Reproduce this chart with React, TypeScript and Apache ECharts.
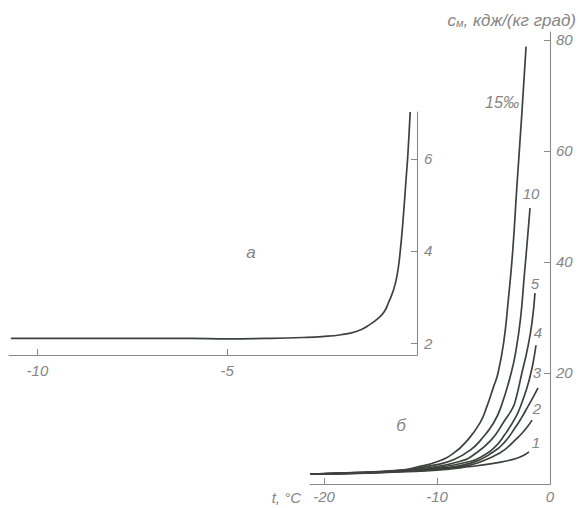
import React, { useEffect, useRef } from "react";
import * as echarts from "echarts";

// Chart "a": specific heat of fresh-water ice near 0 °C
const A_T = [-10.7, -9, -8, -7, -6, -5, -4, -3, -2.5, -2, -1.6, -1.3, -1.0, -0.85, -0.75, -0.62, -0.53, -0.46, -0.37, -0.28, -0.24, -0.18];
const A_C = [2.1, 2.1, 2.1, 2.1, 2.1, 2.09, 2.1, 2.12, 2.14, 2.18, 2.25, 2.37, 2.55, 2.7, 2.88, 3.15, 3.45, 3.85, 4.65, 5.65, 6.1, 7.02];

// Chart "б": sea ice of different salinity (‰)
const B_T15 = [-21.2, -17, -13.2, -11.7, -10, -8.5, -7.3, -6.2, -5.6, -5, -4.6, -4.1, -3.7, -3.3, -2.92, -2.5, -2.12];
const B_C15 = [1.8, 2.1, 2.5, 3.1, 4.0, 5.6, 7.9, 11.0, 13.9, 17.5, 20, 25.5, 33, 42, 54, 66.5, 78.8];
const B_T10 = [-21.2, -17, -13.2, -10, -8.5, -7, -6.1, -5, -4.34, -3.45, -3, -2.6, -2.3, -2.0, -1.77];
const B_C10 = [1.8, 2.05, 2.45, 3.5, 4.4, 6.2, 8.0, 11.0, 13.9, 19.9, 24.2, 30, 37, 44, 49.7];
const B_T5 = [-21.2, -17, -13.2, -10, -7.6, -7, -5.22, -4, -3.3, -3, -2.5, -2, -1.6, -1.33];
const B_C5 = [1.8, 2.0, 2.4, 3.15, 4.3, 4.9, 7.9, 11.5, 13.7, 15.5, 19.9, 24.3, 29, 34.4];
const B_T4 = [-21.2, -17, -13.2, -10, -7, -6, -5, -4, -3, -2.5, -2, -1.74, -1.5, -1.24];
const B_C4 = [1.8, 2.0, 2.35, 2.95, 4.1, 5.0, 6.4, 8.9, 12.2, 14.6, 17.6, 19.6, 21.8, 25.0];
const B_T3 = [-21.2, -17, -13.2, -10, -7, -5, -4, -3, -2.5, -2, -1.5, -1.06];
const B_C3 = [1.8, 1.95, 2.3, 2.8, 3.75, 5.8, 7.6, 10.4, 12.0, 13.8, 15.6, 17.3];
const B_T2 = [-21.2, -17, -13.2, -10, -7, -5, -4, -3, -2.5, -2, -1.59];
const B_C2 = [1.8, 1.95, 2.25, 2.65, 3.45, 5.0, 6.2, 8.1, 9.1, 10.3, 11.5];
const B_T1 = [-21.2, -17, -13.2, -10, -7, -5, -4, -3, -2.4, -1.86];
const B_C1 = [1.8, 1.9, 2.2, 2.5, 3.15, 3.7, 4.1, 4.6, 5.1, 5.8];

const A_XTICKS = [-10, -5];
const A_YTICKS = [2, 4, 6];
const B_XTICKS = [-20, -10, 0];
const B_YTICKS = [20, 40, 60, 80];

const SALINITY_LABELS = ["15‰", "10", "5", "4", "3", "2", "1"];

const zip = (xs: number[], ys: number[]) => xs.map((x, i) => [x, ys[i]]);

const FONT = "'Liberation Sans', 'DejaVu Sans', sans-serif";
const TXT = "#858585";
const AX = "#8a8a8a";
const LINE = "#3e423f";

function axisCommon(ticks: number[], margin: number, fontSize: number) {
  return {
    axisLine: { show: true, onZero: false, lineStyle: { color: AX, width: 1.1 } },
    axisTick: { show: true, inside: true, length: 6, customValues: ticks, lineStyle: { color: AX, width: 1 } },
    axisLabel: {
      show: true,
      customValues: ticks,
      margin,
      color: TXT,
      fontSize,
      fontStyle: "italic",
      fontFamily: FONT,
    },
    splitLine: { show: false },
  };
}

export default function App() {
  const ref = useRef<HTMLDivElement>(null);
  useEffect(() => {
    const chart = echarts.init(ref.current!, null, { renderer: "svg" });
    const lineSeries = (name: string, xi: number, data: number[][]) => ({
      name,
      type: "line",
      xAxisIndex: xi,
      yAxisIndex: xi,
      data,
      showSymbol: false,
      smooth: 0.5,
      lineStyle: { color: LINE, width: 1.7 },
      silent: true,
    });
    const bSets = [
      zip(B_T15, B_C15),
      zip(B_T10, B_C10),
      zip(B_T5, B_C5),
      zip(B_T4, B_C4),
      zip(B_T3, B_C3),
      zip(B_T2, B_C2),
      zip(B_T1, B_C1),
    ];
    const labelPos = [
      [502, 102],
      [531, 193],
      [535, 283],
      [538, 332],
      [537, 372],
      [537, 408],
      [536, 442],
    ];
    const textStyle = (text: string, x: number, y: number, size: number, align = "center") => ({
      type: "text",
      x,
      y,
      silent: true,
      style: {
        text,
        fill: TXT,
        fontSize: size,
        fontStyle: "italic",
        fontFamily: FONT,
        textAlign: align,
        textVerticalAlign: "middle",
      },
    });
    const option: any = {
      animation: false,
      backgroundColor: "#ffffff",
      grid: [
        { left: 9, top: 112, width: 408, height: 243 },
        { left: 310, top: 32, width: 240, height: 452 },
      ],
      xAxis: [
        { type: "value", gridIndex: 0, min: -10.75, max: 0, position: "bottom", ...axisCommon(A_XTICKS, 8, 15) },
        { type: "value", gridIndex: 1, min: -21.25, max: 0, position: "bottom", ...axisCommon(B_XTICKS, 5, 15) },
      ],
      yAxis: [
        { type: "value", gridIndex: 0, min: 1.74, max: 7.02, position: "right", ...axisCommon(A_YTICKS, 7, 15) },
        { type: "value", gridIndex: 1, min: 0, max: 81.44, position: "right", ...axisCommon(B_YTICKS, 6, 15) },
      ],
      series: [
        lineSeries("a", 0, zip(A_T, A_C)),
        ...bSets.map((d, i) => lineSeries(SALINITY_LABELS[i], 1, d)),
      ],
      graphic: [
        textStyle("a", 251, 252, 17),
        textStyle("б", 401, 425, 17),
        ...SALINITY_LABELS.map((s, i) => textStyle(s, labelPos[i][0], labelPos[i][1], i === 0 ? 16 : 15)),
        textStyle("t, °C", 301, 497, 15, "right"),
        {
          type: "text",
          x: 576,
          y: 20,
          silent: true,
          style: {
            text: "{c|c}{s|м}{t|, кдж/(кг град)}",
            textAlign: "right",
            textVerticalAlign: "middle",
            rich: {
              c: { fill: TXT, fontSize: 17, fontStyle: "italic", fontFamily: FONT },
              s: { fill: TXT, fontSize: 11, fontStyle: "italic", fontFamily: FONT, padding: [6, 0, 0, 0] },
              t: { fill: TXT, fontSize: 17, fontStyle: "italic", fontFamily: FONT },
            },
          },
        },
      ],
    };
    chart.setOption(option);
    return () => chart.dispose();
  }, []);
  return <div ref={ref} style={{ position: "fixed", left: 0, top: 0, width: 578, height: 508 }} />;
}
